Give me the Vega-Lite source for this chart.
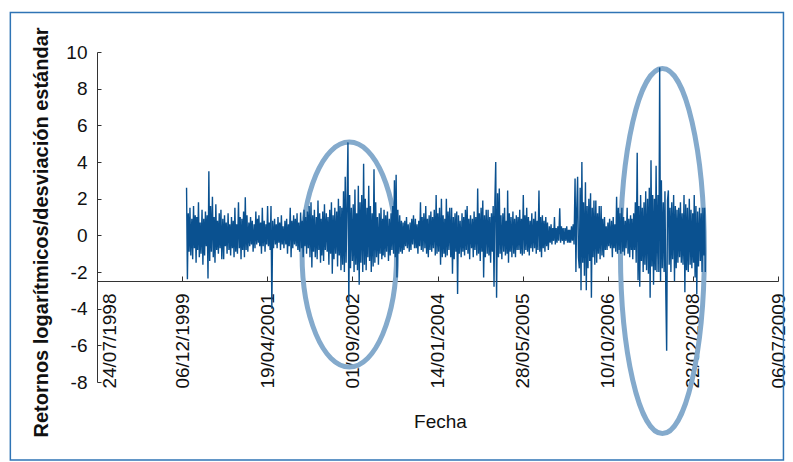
{
"$schema": "https://vega.github.io/schema/vega-lite/v6.json",
"width": 681, "height": 330,
"autosize": {"type": "none"},
"padding": {"left": 97, "top": 52, "right": 15, "bottom": 80},
"background": "white",
"config": {"view": {"stroke": null}, "font": "Liberation Sans"},
"resolve": {"axis": {"x": "independent", "y": "independent"}},
"datasets": {
"frame": [{"a":"1997-03-02","b":"2009-08-07","lo":-12.26,"hi":12.15}],
"e1": [{"d":"2002-08-14","v":-1.05}],
"e2": [{"d":"2007-08-27","v":-0.86}],
"ret": [
{"d":"2000-01-01","v":2.6},{"d":"2000-01-06","v":-2.4},{"d":"2000-01-11","v":1.2},{"d":"2000-01-16","v":-0.9},{"d":"2000-01-21","v":1.5},{"d":"2000-01-26","v":-1.1},
{"d":"2000-02-01","v":0.9},{"d":"2000-02-06","v":-1.3},{"d":"2000-02-11","v":1.6},{"d":"2000-02-16","v":-0.7},{"d":"2000-02-21","v":1.1},{"d":"2000-02-26","v":-1.5},
{"d":"2000-03-01","v":1.0},{"d":"2000-03-06","v":-0.8},{"d":"2000-03-11","v":1.8},{"d":"2000-03-16","v":-1.2},{"d":"2000-03-21","v":0.7},{"d":"2000-03-26","v":-1.0},
{"d":"2000-04-01","v":1.4},{"d":"2000-04-06","v":-1.6},{"d":"2000-04-11","v":0.9},{"d":"2000-04-16","v":-1.1},{"d":"2000-04-21","v":1.3},{"d":"2000-04-26","v":-0.6},
{"d":"2000-05-01","v":1.1},{"d":"2000-05-06","v":-2.35},{"d":"2000-05-11","v":3.5},{"d":"2000-05-16","v":-1.4},{"d":"2000-05-21","v":1.6},{"d":"2000-05-26","v":-0.9},
{"d":"2000-06-01","v":2.1},{"d":"2000-06-06","v":-1.2},{"d":"2000-06-11","v":1.0},{"d":"2000-06-16","v":-1.5},{"d":"2000-06-21","v":1.7},{"d":"2000-06-26","v":-0.8},
{"d":"2000-07-01","v":0.8},{"d":"2000-07-06","v":-1.0},{"d":"2000-07-11","v":1.2},{"d":"2000-07-16","v":-0.7},{"d":"2000-07-21","v":1.4},{"d":"2000-07-26","v":-1.3},
{"d":"2000-08-01","v":0.9},{"d":"2000-08-06","v":-1.3},{"d":"2000-08-11","v":1.1},{"d":"2000-08-16","v":-0.6},{"d":"2000-08-21","v":0.7},{"d":"2000-08-26","v":-1.0},
{"d":"2000-09-01","v":1.2},{"d":"2000-09-06","v":-0.8},{"d":"2000-09-11","v":0.6},{"d":"2000-09-16","v":-1.1},{"d":"2000-09-21","v":1.0},{"d":"2000-09-26","v":-0.7},
{"d":"2000-10-01","v":0.8},{"d":"2000-10-06","v":-1.2},{"d":"2000-10-11","v":1.5},{"d":"2000-10-16","v":-0.9},{"d":"2000-10-21","v":0.6},{"d":"2000-10-26","v":-1.0},
{"d":"2000-11-01","v":1.8},{"d":"2000-11-06","v":-0.7},{"d":"2000-11-11","v":1.0},{"d":"2000-11-16","v":-1.3},{"d":"2000-11-21","v":0.9},{"d":"2000-11-26","v":-0.8},
{"d":"2000-12-01","v":1.3},{"d":"2000-12-06","v":-1.2},{"d":"2000-12-11","v":2.07},{"d":"2000-12-16","v":-0.8},{"d":"2000-12-21","v":1.1},{"d":"2000-12-26","v":-0.9},
{"d":"2001-01-01","v":0.7},{"d":"2001-01-06","v":-0.6},{"d":"2001-01-11","v":1.0},{"d":"2001-01-16","v":-0.5},{"d":"2001-01-21","v":0.8},{"d":"2001-01-26","v":-0.9},
{"d":"2001-02-01","v":0.6},{"d":"2001-02-06","v":-0.7},{"d":"2001-02-11","v":1.3},{"d":"2001-02-16","v":-0.5},{"d":"2001-02-21","v":0.9},{"d":"2001-02-26","v":-0.4},
{"d":"2001-03-01","v":1.1},{"d":"2001-03-06","v":-0.6},{"d":"2001-03-11","v":0.7},{"d":"2001-03-16","v":-1.0},{"d":"2001-03-21","v":1.5},{"d":"2001-03-26","v":-0.6},
{"d":"2001-04-01","v":0.8},{"d":"2001-04-06","v":-0.9},{"d":"2001-04-11","v":0.6},{"d":"2001-04-16","v":-0.5},{"d":"2001-04-21","v":1.6},{"d":"2001-04-26","v":-0.6},
{"d":"2001-05-01","v":0.7},{"d":"2001-05-06","v":-0.8},{"d":"2001-05-11","v":1.6},{"d":"2001-05-16","v":-4.0},{"d":"2001-05-21","v":0.8},{"d":"2001-05-26","v":-0.7},
{"d":"2001-06-01","v":0.9},{"d":"2001-06-06","v":-0.5},{"d":"2001-06-11","v":0.6},{"d":"2001-06-16","v":-0.7},{"d":"2001-06-21","v":1.0},{"d":"2001-06-26","v":-0.4},
{"d":"2001-07-01","v":0.7},{"d":"2001-07-06","v":-0.8},{"d":"2001-07-11","v":1.1},{"d":"2001-07-16","v":-0.5},{"d":"2001-07-21","v":0.5},{"d":"2001-07-26","v":-0.7},
{"d":"2001-08-01","v":0.8},{"d":"2001-08-06","v":-0.5},{"d":"2001-08-11","v":0.9},{"d":"2001-08-16","v":-1.0},{"d":"2001-08-21","v":0.6},{"d":"2001-08-26","v":-0.6},
{"d":"2001-09-01","v":1.5},{"d":"2001-09-06","v":-1.2},{"d":"2001-09-11","v":0.8},{"d":"2001-09-16","v":-0.7},{"d":"2001-09-21","v":1.1},{"d":"2001-09-26","v":-0.5},
{"d":"2001-10-01","v":0.9},{"d":"2001-10-06","v":-0.6},{"d":"2001-10-11","v":1.2},{"d":"2001-10-16","v":-0.8},{"d":"2001-10-21","v":0.7},{"d":"2001-10-26","v":-0.9},
{"d":"2001-11-01","v":1.25},{"d":"2001-11-06","v":-0.7},{"d":"2001-11-11","v":0.8},{"d":"2001-11-16","v":-1.2},{"d":"2001-11-21","v":1.4},{"d":"2001-11-26","v":-0.6},
{"d":"2001-12-01","v":1.0},{"d":"2001-12-06","v":-1.0},{"d":"2001-12-11","v":1.3},{"d":"2001-12-16","v":-0.7},{"d":"2001-12-21","v":1.6},{"d":"2001-12-26","v":-1.2},
{"d":"2002-01-01","v":1.8},{"d":"2002-01-06","v":-1.75},{"d":"2002-01-11","v":1.1},{"d":"2002-01-16","v":-0.9},{"d":"2002-01-21","v":1.4},{"d":"2002-01-26","v":-1.2},
{"d":"2002-02-01","v":1.0},{"d":"2002-02-06","v":-1.3},{"d":"2002-02-11","v":1.9},{"d":"2002-02-16","v":-0.8},{"d":"2002-02-21","v":1.2},{"d":"2002-02-26","v":-1.5},
{"d":"2002-03-01","v":0.9},{"d":"2002-03-06","v":-1.1},{"d":"2002-03-11","v":1.3},{"d":"2002-03-16","v":-1.4},{"d":"2002-03-21","v":1.7},{"d":"2002-03-26","v":-0.8},
{"d":"2002-04-01","v":1.2},{"d":"2002-04-06","v":-0.9},{"d":"2002-04-11","v":1.0},{"d":"2002-04-16","v":-1.6},{"d":"2002-04-21","v":1.4},{"d":"2002-04-26","v":-1.0},
{"d":"2002-05-01","v":1.8},{"d":"2002-05-06","v":-2.1},{"d":"2002-05-11","v":1.1},{"d":"2002-05-16","v":-1.3},{"d":"2002-05-21","v":1.5},{"d":"2002-05-26","v":-1.0},
{"d":"2002-06-01","v":1.3},{"d":"2002-06-06","v":-1.7},{"d":"2002-06-11","v":2.0},{"d":"2002-06-16","v":-1.1},{"d":"2002-06-21","v":1.6},{"d":"2002-06-26","v":-1.9},
{"d":"2002-07-01","v":1.5},{"d":"2002-07-06","v":-1.6},{"d":"2002-07-11","v":2.4},{"d":"2002-07-16","v":-2.0},{"d":"2002-07-21","v":3.2},{"d":"2002-07-26","v":-1.5},
{"d":"2002-08-01","v":2.0},{"d":"2002-08-06","v":5.07},{"d":"2002-08-11","v":-3.8},{"d":"2002-08-16","v":2.2},{"d":"2002-08-21","v":-1.8},{"d":"2002-08-26","v":1.5},
{"d":"2002-09-01","v":-1.4},{"d":"2002-09-06","v":1.7},{"d":"2002-09-11","v":-2.0},{"d":"2002-09-16","v":2.5},{"d":"2002-09-21","v":-1.6},{"d":"2002-09-26","v":1.2},
{"d":"2002-10-01","v":-1.9},{"d":"2002-10-06","v":2.7},{"d":"2002-10-11","v":-2.7},{"d":"2002-10-16","v":1.8},{"d":"2002-10-21","v":-1.5},{"d":"2002-10-26","v":2.2},
{"d":"2002-11-01","v":-2.0},{"d":"2002-11-06","v":3.9},{"d":"2002-11-11","v":-1.6},{"d":"2002-11-16","v":2.0},{"d":"2002-11-21","v":-1.9},{"d":"2002-11-26","v":1.5},
{"d":"2002-12-01","v":-1.2},{"d":"2002-12-06","v":2.7},{"d":"2002-12-11","v":-1.4},{"d":"2002-12-16","v":1.6},{"d":"2002-12-21","v":-2.0},{"d":"2002-12-26","v":1.2},
{"d":"2003-01-01","v":-1.7},{"d":"2003-01-06","v":3.6},{"d":"2003-01-11","v":-1.5},{"d":"2003-01-16","v":1.8},{"d":"2003-01-21","v":-1.2},{"d":"2003-01-26","v":1.0},
{"d":"2003-02-01","v":-1.6},{"d":"2003-02-06","v":1.2},{"d":"2003-02-11","v":-1.0},{"d":"2003-02-16","v":1.5},{"d":"2003-02-21","v":-1.3},{"d":"2003-02-26","v":0.9},
{"d":"2003-03-01","v":-1.1},{"d":"2003-03-06","v":1.4},{"d":"2003-03-11","v":-1.2},{"d":"2003-03-16","v":1.1},{"d":"2003-03-21","v":-0.9},{"d":"2003-03-26","v":1.3},
{"d":"2003-04-01","v":-1.4},{"d":"2003-04-06","v":0.9},{"d":"2003-04-11","v":-1.1},{"d":"2003-04-16","v":1.2},{"d":"2003-04-21","v":-0.8},{"d":"2003-04-26","v":1.6},
{"d":"2003-05-01","v":-1.0},{"d":"2003-05-06","v":3.0},{"d":"2003-05-11","v":-1.2},{"d":"2003-05-16","v":3.3},{"d":"2003-05-21","v":-2.3},{"d":"2003-05-26","v":1.4},
{"d":"2003-06-01","v":-1.0},{"d":"2003-06-06","v":1.1},{"d":"2003-06-11","v":-0.9},{"d":"2003-06-16","v":0.8},{"d":"2003-06-21","v":-1.0},{"d":"2003-06-26","v":0.7},
{"d":"2003-07-01","v":-0.8},{"d":"2003-07-06","v":0.8},{"d":"2003-07-11","v":-0.6},{"d":"2003-07-16","v":1.0},{"d":"2003-07-21","v":-0.7},{"d":"2003-07-26","v":0.6},
{"d":"2003-08-01","v":-0.9},{"d":"2003-08-06","v":0.7},{"d":"2003-08-11","v":-0.8},{"d":"2003-08-16","v":0.9},{"d":"2003-08-21","v":-0.5},{"d":"2003-08-26","v":1.1},
{"d":"2003-09-01","v":-0.7},{"d":"2003-09-06","v":0.9},{"d":"2003-09-11","v":-0.7},{"d":"2003-09-16","v":0.6},{"d":"2003-09-21","v":-1.0},{"d":"2003-09-26","v":0.8},
{"d":"2003-10-01","v":-0.6},{"d":"2003-10-06","v":1.8},{"d":"2003-10-11","v":-0.8},{"d":"2003-10-16","v":1.0},{"d":"2003-10-21","v":-0.9},{"d":"2003-10-26","v":1.2},
{"d":"2003-11-01","v":-0.7},{"d":"2003-11-06","v":1.6},{"d":"2003-11-11","v":-1.0},{"d":"2003-11-16","v":0.9},{"d":"2003-11-21","v":-1.2},{"d":"2003-11-26","v":1.1},
{"d":"2003-12-01","v":-0.8},{"d":"2003-12-06","v":1.3},{"d":"2003-12-11","v":-0.9},{"d":"2003-12-16","v":1.0},{"d":"2003-12-21","v":-0.7},{"d":"2003-12-26","v":1.4},
{"d":"2004-01-01","v":-1.1},{"d":"2004-01-06","v":2.2},{"d":"2004-01-11","v":-1.0},{"d":"2004-01-16","v":1.2},{"d":"2004-01-21","v":-0.9},{"d":"2004-01-26","v":1.5},
{"d":"2004-02-01","v":-1.6},{"d":"2004-02-06","v":2.0},{"d":"2004-02-11","v":-1.2},{"d":"2004-02-16","v":1.1},{"d":"2004-02-21","v":-1.0},{"d":"2004-02-26","v":0.9},
{"d":"2004-03-01","v":-1.2},{"d":"2004-03-06","v":2.0},{"d":"2004-03-11","v":-1.1},{"d":"2004-03-16","v":1.3},{"d":"2004-03-21","v":-0.8},{"d":"2004-03-26","v":1.5},
{"d":"2004-04-01","v":-1.2},{"d":"2004-04-06","v":1.5},{"d":"2004-04-11","v":-2.1},{"d":"2004-04-16","v":1.0},{"d":"2004-04-21","v":-1.3},{"d":"2004-04-26","v":1.2},
{"d":"2004-05-01","v":-0.9},{"d":"2004-05-06","v":1.3},{"d":"2004-05-11","v":-3.2},{"d":"2004-05-16","v":1.1},{"d":"2004-05-21","v":-1.0},{"d":"2004-05-26","v":0.8},
{"d":"2004-06-01","v":-1.2},{"d":"2004-06-06","v":1.2},{"d":"2004-06-11","v":-0.9},{"d":"2004-06-16","v":1.0},{"d":"2004-06-21","v":-1.1},{"d":"2004-06-26","v":1.4},
{"d":"2004-07-01","v":-0.8},{"d":"2004-07-06","v":1.6},{"d":"2004-07-11","v":-1.0},{"d":"2004-07-16","v":0.9},{"d":"2004-07-21","v":-1.3},{"d":"2004-07-26","v":1.1},
{"d":"2004-08-01","v":-0.7},{"d":"2004-08-06","v":0.9},{"d":"2004-08-11","v":-1.2},{"d":"2004-08-16","v":1.3},{"d":"2004-08-21","v":-0.8},{"d":"2004-08-26","v":1.0},
{"d":"2004-09-01","v":-1.1},{"d":"2004-09-06","v":2.56},{"d":"2004-09-11","v":-1.0},{"d":"2004-09-16","v":1.2},{"d":"2004-09-21","v":-1.4},{"d":"2004-09-26","v":1.5},
{"d":"2004-10-01","v":-0.9},{"d":"2004-10-06","v":1.9},{"d":"2004-10-11","v":-2.3},{"d":"2004-10-16","v":1.1},{"d":"2004-10-21","v":-1.2},{"d":"2004-10-26","v":1.4},
{"d":"2004-11-01","v":-1.0},{"d":"2004-11-06","v":1.4},{"d":"2004-11-11","v":-1.1},{"d":"2004-11-16","v":1.0},{"d":"2004-11-21","v":-1.5},{"d":"2004-11-26","v":1.2},
{"d":"2004-12-01","v":-0.9},{"d":"2004-12-06","v":1.6},{"d":"2004-12-11","v":-2.8},{"d":"2004-12-16","v":1.8},{"d":"2004-12-21","v":4.0},{"d":"2004-12-26","v":-3.4},
{"d":"2005-01-01","v":2.3},{"d":"2005-01-06","v":-1.2},{"d":"2005-01-11","v":2.56},{"d":"2005-01-16","v":-1.0},{"d":"2005-01-21","v":1.1},{"d":"2005-01-26","v":-1.3},
{"d":"2005-02-01","v":1.2},{"d":"2005-02-06","v":-0.9},{"d":"2005-02-11","v":1.5},{"d":"2005-02-16","v":-1.1},{"d":"2005-02-21","v":0.8},{"d":"2005-02-26","v":-1.0},
{"d":"2005-03-01","v":2.45},{"d":"2005-03-06","v":-1.5},{"d":"2005-03-11","v":1.2},{"d":"2005-03-16","v":-0.9},{"d":"2005-03-21","v":1.0},{"d":"2005-03-26","v":-1.2},
{"d":"2005-04-01","v":1.3},{"d":"2005-04-06","v":-1.0},{"d":"2005-04-11","v":0.9},{"d":"2005-04-16","v":-1.2},{"d":"2005-04-21","v":1.1},{"d":"2005-04-26","v":-0.8},
{"d":"2005-05-01","v":1.0},{"d":"2005-05-06","v":-0.8},{"d":"2005-05-11","v":1.4},{"d":"2005-05-16","v":-1.0},{"d":"2005-05-21","v":0.9},{"d":"2005-05-26","v":-1.1},
{"d":"2005-06-01","v":2.2},{"d":"2005-06-06","v":-1.0},{"d":"2005-06-11","v":1.1},{"d":"2005-06-16","v":-0.8},{"d":"2005-06-21","v":1.5},{"d":"2005-06-26","v":-0.9},
{"d":"2005-07-01","v":1.0},{"d":"2005-07-06","v":-1.1},{"d":"2005-07-11","v":0.8},{"d":"2005-07-16","v":-0.7},{"d":"2005-07-21","v":1.2},{"d":"2005-07-26","v":-0.9},
{"d":"2005-08-01","v":0.9},{"d":"2005-08-06","v":-0.7},{"d":"2005-08-11","v":1.3},{"d":"2005-08-16","v":-1.0},{"d":"2005-08-21","v":0.8},{"d":"2005-08-26","v":-0.8},
{"d":"2005-09-01","v":2.45},{"d":"2005-09-06","v":-0.9},{"d":"2005-09-11","v":1.0},{"d":"2005-09-16","v":-1.2},{"d":"2005-09-21","v":1.1},{"d":"2005-09-26","v":-0.7},
{"d":"2005-10-01","v":0.8},{"d":"2005-10-06","v":-0.9},{"d":"2005-10-11","v":1.0},{"d":"2005-10-16","v":-0.6},{"d":"2005-10-21","v":0.7},{"d":"2005-10-26","v":-0.8},
{"d":"2005-11-01","v":0.5},{"d":"2005-11-06","v":-0.4},{"d":"2005-11-11","v":0.6},{"d":"2005-11-16","v":-0.5},{"d":"2005-11-21","v":0.4},{"d":"2005-11-26","v":-0.3},
{"d":"2005-12-01","v":1.0},{"d":"2005-12-06","v":-0.5},{"d":"2005-12-11","v":0.4},{"d":"2005-12-16","v":-0.4},{"d":"2005-12-21","v":0.5},{"d":"2005-12-26","v":-0.3},
{"d":"2006-01-01","v":1.47},{"d":"2006-01-06","v":-0.4},{"d":"2006-01-11","v":0.5},{"d":"2006-01-16","v":-0.3},{"d":"2006-01-21","v":0.4},{"d":"2006-01-26","v":-0.5},
{"d":"2006-02-01","v":0.4},{"d":"2006-02-06","v":-0.3},{"d":"2006-02-11","v":0.5},{"d":"2006-02-16","v":-0.4},{"d":"2006-02-21","v":0.3},{"d":"2006-02-26","v":-0.4},
{"d":"2006-03-01","v":0.3},{"d":"2006-03-06","v":-0.4},{"d":"2006-03-11","v":0.5},{"d":"2006-03-16","v":-0.3},{"d":"2006-03-21","v":0.6},{"d":"2006-03-26","v":-0.5},
{"d":"2006-04-01","v":3.1},{"d":"2006-04-06","v":-2.0},{"d":"2006-04-11","v":1.5},{"d":"2006-04-16","v":3.2},{"d":"2006-04-21","v":-1.2},{"d":"2006-04-26","v":-1.8},
{"d":"2006-05-01","v":2.6},{"d":"2006-05-06","v":-3.0},{"d":"2006-05-11","v":4.0},{"d":"2006-05-16","v":-1.5},{"d":"2006-05-21","v":1.8},{"d":"2006-05-26","v":-2.2},
{"d":"2006-06-01","v":2.9},{"d":"2006-06-06","v":-3.0},{"d":"2006-06-11","v":1.6},{"d":"2006-06-16","v":-1.8},{"d":"2006-06-21","v":2.0},{"d":"2006-06-26","v":-1.4},
{"d":"2006-07-01","v":2.3},{"d":"2006-07-06","v":-3.4},{"d":"2006-07-11","v":1.5},{"d":"2006-07-16","v":-1.2},{"d":"2006-07-21","v":1.9},{"d":"2006-07-26","v":-1.6},
{"d":"2006-08-01","v":1.9},{"d":"2006-08-06","v":-1.5},{"d":"2006-08-11","v":1.2},{"d":"2006-08-16","v":-1.0},{"d":"2006-08-21","v":1.6},{"d":"2006-08-26","v":-1.3},
{"d":"2006-09-01","v":1.6},{"d":"2006-09-06","v":-1.1},{"d":"2006-09-11","v":0.9},{"d":"2006-09-16","v":-1.2},{"d":"2006-09-21","v":1.0},{"d":"2006-09-26","v":-0.8},
{"d":"2006-10-01","v":0.5},{"d":"2006-10-06","v":-0.8},{"d":"2006-10-11","v":0.7},{"d":"2006-10-16","v":-0.6},{"d":"2006-10-21","v":0.9},{"d":"2006-10-26","v":-0.7},
{"d":"2006-11-01","v":0.8},{"d":"2006-11-06","v":-1.2},{"d":"2006-11-11","v":1.0},{"d":"2006-11-16","v":-0.7},{"d":"2006-11-21","v":0.6},{"d":"2006-11-26","v":-0.9},
{"d":"2006-12-01","v":2.1},{"d":"2006-12-06","v":-1.0},{"d":"2006-12-11","v":1.5},{"d":"2006-12-16","v":-0.8},{"d":"2006-12-21","v":1.2},{"d":"2006-12-26","v":-1.0},
{"d":"2007-01-01","v":1.5},{"d":"2007-01-06","v":-0.9},{"d":"2007-01-11","v":1.0},{"d":"2007-01-16","v":-1.1},{"d":"2007-01-21","v":0.8},{"d":"2007-01-26","v":-0.7},
{"d":"2007-02-01","v":1.5},{"d":"2007-02-06","v":-1.0},{"d":"2007-02-11","v":0.9},{"d":"2007-02-16","v":-1.2},{"d":"2007-02-21","v":1.1},{"d":"2007-02-26","v":-0.8},
{"d":"2007-03-01","v":0.9},{"d":"2007-03-06","v":-1.3},{"d":"2007-03-11","v":1.2},{"d":"2007-03-16","v":-0.8},{"d":"2007-03-21","v":1.8},{"d":"2007-03-26","v":-1.5},
{"d":"2007-04-01","v":4.5},{"d":"2007-04-06","v":-2.45},{"d":"2007-04-11","v":1.6},{"d":"2007-04-16","v":-2.8},{"d":"2007-04-21","v":2.2},{"d":"2007-04-26","v":-1.4},
{"d":"2007-05-01","v":1.5},{"d":"2007-05-06","v":-2.0},{"d":"2007-05-11","v":1.8},{"d":"2007-05-16","v":-1.6},{"d":"2007-05-21","v":2.4},{"d":"2007-05-26","v":-1.9},
{"d":"2007-06-01","v":2.0},{"d":"2007-06-06","v":-2.1},{"d":"2007-06-11","v":2.6},{"d":"2007-06-16","v":-3.4},{"d":"2007-06-21","v":4.1},{"d":"2007-06-26","v":-1.7},
{"d":"2007-07-01","v":2.2},{"d":"2007-07-06","v":-2.7},{"d":"2007-07-11","v":2.0},{"d":"2007-07-16","v":-1.9},{"d":"2007-07-21","v":3.8},{"d":"2007-07-26","v":-2.0},
{"d":"2007-08-01","v":2.2},{"d":"2007-08-06","v":-2.0},{"d":"2007-08-11","v":9.15},{"d":"2007-08-16","v":-2.5},{"d":"2007-08-21","v":3.0},{"d":"2007-08-26","v":-1.8},
{"d":"2007-09-01","v":1.8},{"d":"2007-09-06","v":-2.0},{"d":"2007-09-11","v":2.4},{"d":"2007-09-16","v":-3.1},{"d":"2007-09-21","v":-6.3},{"d":"2007-09-26","v":1.9},
{"d":"2007-10-01","v":2.45},{"d":"2007-10-06","v":-1.6},{"d":"2007-10-11","v":1.5},{"d":"2007-10-16","v":-2.0},{"d":"2007-10-21","v":1.8},{"d":"2007-10-26","v":-1.3},
{"d":"2007-11-01","v":2.2},{"d":"2007-11-06","v":-2.5},{"d":"2007-11-11","v":1.6},{"d":"2007-11-16","v":-1.8},{"d":"2007-11-21","v":1.4},{"d":"2007-11-26","v":-1.5},
{"d":"2007-12-01","v":1.5},{"d":"2007-12-06","v":-1.2},{"d":"2007-12-11","v":1.8},{"d":"2007-12-16","v":-1.5},{"d":"2007-12-21","v":1.2},{"d":"2007-12-26","v":-1.6},
{"d":"2008-01-01","v":2.2},{"d":"2008-01-06","v":-3.1},{"d":"2008-01-11","v":1.7},{"d":"2008-01-16","v":-1.9},{"d":"2008-01-21","v":1.5},{"d":"2008-01-26","v":-2.0},
{"d":"2008-02-01","v":2.0},{"d":"2008-02-06","v":-1.6},{"d":"2008-02-11","v":1.4},{"d":"2008-02-16","v":-1.8},{"d":"2008-02-21","v":1.2},{"d":"2008-02-26","v":-1.5},
{"d":"2008-03-01","v":2.2},{"d":"2008-03-06","v":-2.3},{"d":"2008-03-11","v":1.6},{"d":"2008-03-16","v":-3.2},{"d":"2008-03-21","v":1.3},{"d":"2008-03-26","v":-1.7},
{"d":"2008-04-01","v":1.5},{"d":"2008-04-06","v":-1.4},{"d":"2008-04-11","v":1.2},{"d":"2008-04-16","v":-2.0},{"d":"2008-04-21","v":1.5},{"d":"2008-04-26","v":-1.1},
{"d":"2008-05-01","v":1.5},{"d":"2008-05-05","v":-2.0}
]
},
"layer": [
{
"data": {"name": "frame"},
"mark": {"type": "rect", "filled": false, "color": "#2f74b5", "strokeWidth": 1.5},
"encoding": {
"x": {"field": "a", "type": "temporal", "scale": {"domain": [{"year":1998,"month":7,"date":24},{"year":2009,"month":7,"date":6}]}, "axis": null},
"x2": {"field": "b"},
"y": {"field": "lo", "type": "quantitative", "scale": {"domain": [-8, 10], "nice": false, "zero": false}, "axis": null},
"y2": {"field": "hi"}
}
},
{
"data": {"name": "e1"},
"mark": {"type": "point", "shape": "M0,-1C0.232,-1,0.42,-0.552,0.42,0C0.42,0.552,0.232,1,0,1C-0.232,1,-0.42,0.552,-0.42,0C-0.42,-0.552,-0.232,-1,0,-1Z", "size": 50625, "filled": false, "color": "#84aacc", "strokeWidth": 5, "opacity": 1},
"encoding": {
"x": {"field": "d", "type": "temporal", "scale": {"domain": [{"year":1998,"month":7,"date":24},{"year":2009,"month":7,"date":6}]}, "axis": null},
"y": {"field": "v", "type": "quantitative", "scale": {"domain": [-8, 10], "nice": false, "zero": false}, "axis": null}
}
},
{
"data": {"name": "e2"},
"mark": {"type": "point", "shape": "M0,-1C0.127,-1,0.23,-0.552,0.23,0C0.23,0.552,0.127,1,0,1C-0.127,1,-0.23,0.552,-0.23,0C-0.23,-0.552,-0.127,-1,0,-1Z", "size": 133225, "filled": false, "color": "#84aacc", "strokeWidth": 5, "opacity": 1},
"encoding": {
"x": {"field": "d", "type": "temporal", "scale": {"domain": [{"year":1998,"month":7,"date":24},{"year":2009,"month":7,"date":6}]}, "axis": null},
"y": {"field": "v", "type": "quantitative", "scale": {"domain": [-8, 10], "nice": false, "zero": false}, "axis": null}
}
},
{
"data": {"name": "ret"},
"mark": {"type": "line", "color": "#0a5190", "strokeWidth": 1.4},
"encoding": {
"x": {"field": "d", "type": "temporal",
"scale": {"domain": [{"year":1998,"month":7,"date":24},{"year":2009,"month":7,"date":6}]},
"axis": {
"values": [{"year":1998,"month":7,"date":24},{"year":1999,"month":12,"date":6},{"year":2001,"month":4,"date":19},{"year":2002,"month":9,"date":1},{"year":2004,"month":1,"date":14},{"year":2005,"month":5,"date":28},{"year":2006,"month":10,"date":10},{"year":2008,"month":2,"date":22},{"year":2009,"month":7,"date":6}],
"format": "%d/%m/%Y", "offset": -101, "grid": false,
"domainColor": "#333333", "domainWidth": 1.2, "tickColor": "#333333", "tickWidth": 1, "tickSize": -5,
"labelAngle": -90, "labelAlign": "right", "labelBaseline": "middle", "labelPadding": 17,
"labelFont": "Liberation Sans", "labelFontSize": 19, "labelColor": "#111111",
"labelOffset": {"condition": {"test": "datum.label == '24/07/1998'", "value": 12}, "value": 0},
"labelOverlap": false, "labelBound": false, "labelFlush": false,
"title": "Fecha", "titleFont": "Liberation Sans", "titleFontSize": 19, "titleFontWeight": "normal", "titleColor": "#111111",
"titleX": 343, "titleY": 146, "titleAlign": "center", "titleBaseline": "alphabetic"
}},
"y": {"field": "v", "type": "quantitative",
"scale": {"domain": [-8, 10], "nice": false, "zero": false},
"axis": {
"values": [-8,-6,-4,-2,0,2,4,6,8,10], "grid": false,
"labelExpr": "'' + datum.value", "labelOverlap": false, "labelFlush": false, "labelBound": false,
"domainColor": "#333333", "domainWidth": 1, "tickColor": "#333333", "tickWidth": 1, "tickSize": -4,
"labelFont": "Liberation Sans", "labelFontSize": 19, "labelColor": "#111111", "labelPadding": 14,
"title": "Retornos logarítmicos/desviación estándar", "titleFont": "Liberation Sans", "titleFontSize": 20, "titleFontWeight": "bold", "titleColor": "#111111",
"titleX": -56, "titleY": 180, "titleAngle": -90, "titleAlign": "center", "titleBaseline": "middle"
}}
}
}
]
}
